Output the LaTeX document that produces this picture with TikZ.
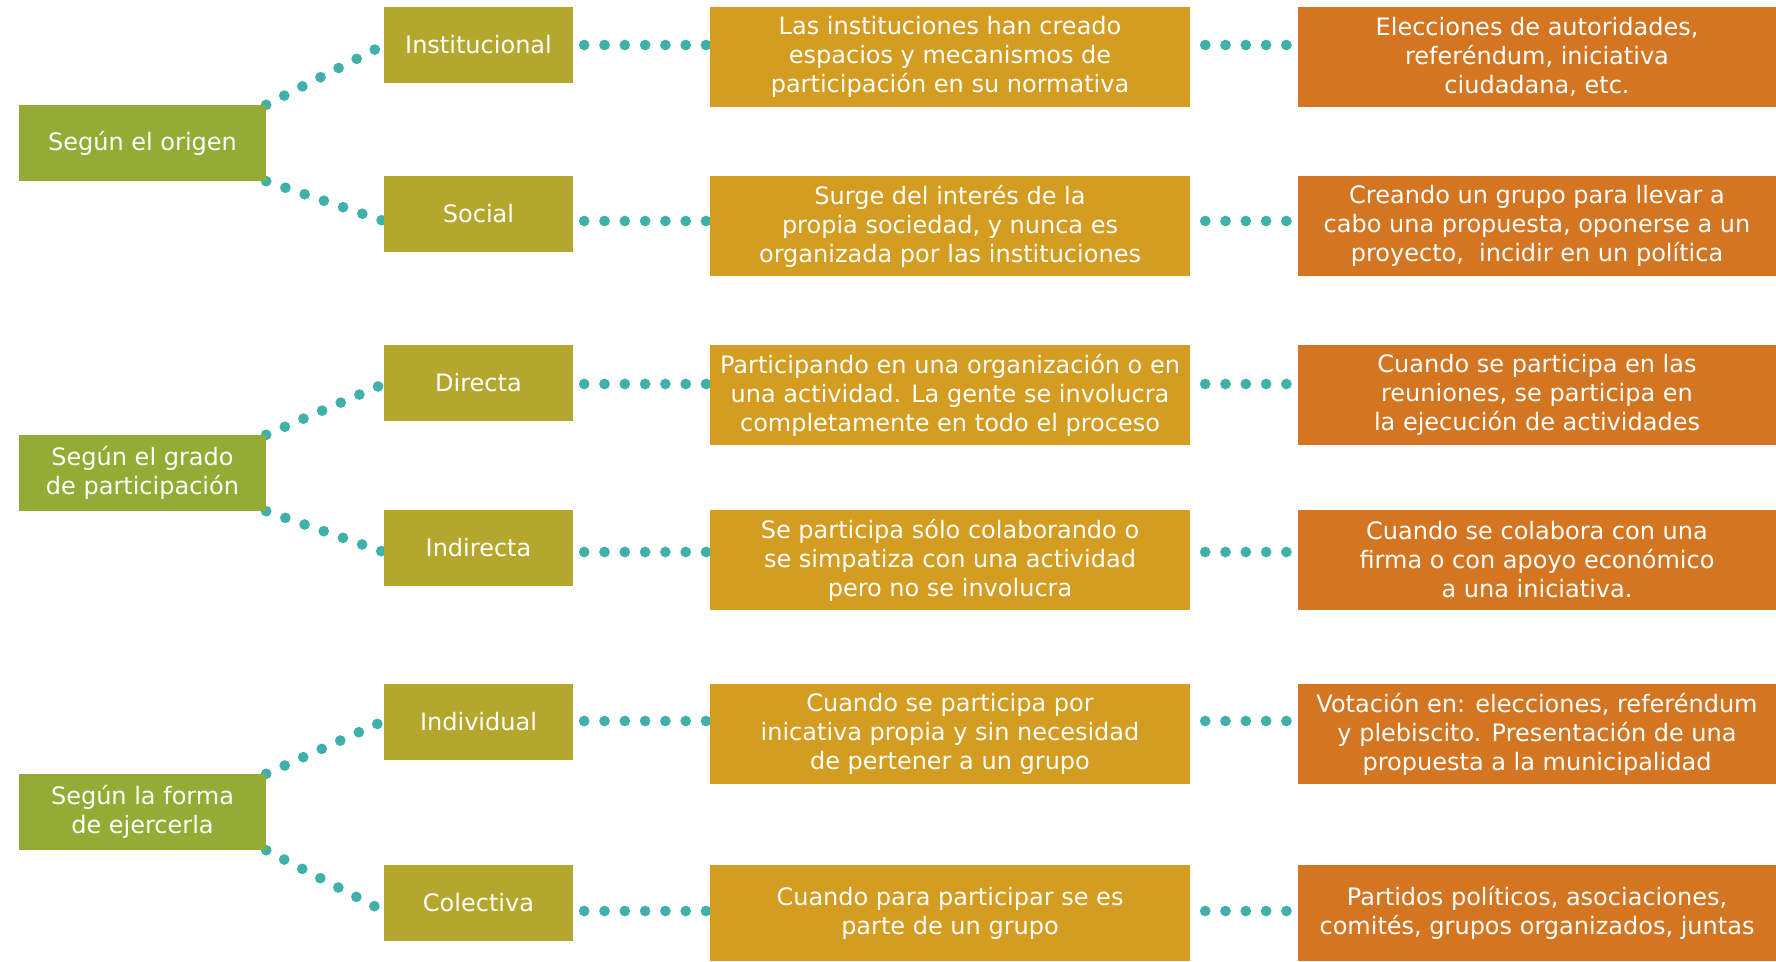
\documentclass[tikz,border=0pt]{standalone}
\usepackage{fontspec}
\setmainfont{DejaVu Sans}
\usetikzlibrary{backgrounds,calc}
\definecolor{cLeft}{HTML}{94AC35}
\definecolor{cOlive}{HTML}{B5A72D}
\definecolor{cYel}{HTML}{D49C20}
\definecolor{cOr}{HTML}{D47522}
\definecolor{cTeal}{HTML}{3FB0AA}
\begin{document}
\begin{tikzpicture}[x=1pt,y=-1pt,
 box/.style={rectangle, inner sep=0pt, text=white, align=center, font=\fontsize{24}{29}\selectfont},
 lbox/.style={box, fill=cLeft, minimum width=247pt, minimum height=76pt},
 obox/.style={box, fill=cOlive, minimum width=189pt, minimum height=76pt},
 tbox/.style={box, fill=cYel, minimum width=480pt, minimum height=100pt},
 fbox/.style={box, fill=cOr, minimum width=478pt, minimum height=100pt},
 dotline/.style={draw=cTeal, line width=10.7pt, line cap=round, dash pattern=on 0pt off 20.3pt}]
\useasboundingbox (0,0) rectangle (1776,961);
% left boxes
\node[lbox] (L1) at (142.5,143) {Según el origen};
\node[lbox] (L2) at (142.5,473) {Según el grado\\de participación};
\node[lbox] (L3) at (142.5,812) {Según la forma\\de ejercerla};
% olive boxes
\node[obox] (O1) at (478.5,45) {Institucional};
\node[obox] (O2) at (478.5,214) {Social};
\node[obox] (O3) at (478.5,383) {Directa};
\node[obox] (O4) at (478.5,548) {Indirecta};
\node[obox] (O5) at (478.5,722) {Individual};
\node[obox] (O6) at (478.5,903) {Colectiva};
% third column
\node[tbox] (T1) at (950,57) {Las instituciones han creado\\espacios y mecanismos de\\participación en su normativa};
\node[tbox] (T2) at (950,226) {Surge del interés de la\\propia sociedad, y nunca es\\organizada por las instituciones};
\node[tbox] (T3) at (950,395) {Participando en una organización o en\\una actividad. La gente se involucra\\completamente en todo el proceso};
\node[tbox] (T4) at (950,560) {Se participa sólo colaborando o\\se simpatiza con una actividad\\pero no se involucra};
\node[tbox] (T5) at (950,734) {Cuando se participa por\\inicativa propia y sin necesidad\\de pertener a un grupo};
\node[tbox, minimum height=96pt] (T6) at (950,913) {Cuando para participar se es\\parte de un grupo};
% fourth column
\node[fbox] (F1) at (1537,57) {Elecciones de autoridades,\\referéndum, iniciativa\\ciudadana, etc.};
\node[fbox] (F2) at (1537,226) {Creando un grupo para llevar a\\cabo una propuesta, oponerse a un\\proyecto,~ incidir en un política};
\node[fbox] (F3) at (1537,395) {Cuando se participa en las\\reuniones, se participa en\\la ejecución de actividades};
\node[fbox] (F4) at (1537,560) {Cuando se colabora con una\\firma o con apoyo económico\\a una iniciativa.};
\node[fbox] (F5) at (1537,734) {Votación en: elecciones, referéndum\\y plebiscito. Presentación de una\\propuesta a la municipalidad};
\node[fbox, minimum height=96pt] (F6) at (1537,913) {Partidos políticos, asociaciones,\\comités, grupos organizados, juntas};
% connectors
\begin{scope}[on background layer]
\coordinate (c1) at ($(O1.west)+(0,0)$);
\coordinate (c2) at ($(O2.west)+(0,7)$);
\coordinate (c3) at ($(O3.west)+(0,1)$);
\coordinate (c4) at ($(O4.west)+(0,4)$);
\coordinate (c5) at ($(O5.west)+(0,-1)$);
\coordinate (c6) at ($(O6.west)+(0,8)$);
\draw[dotline] (L1.north east) -- (c1);
\draw[dotline] (L1.south east) -- (c2);
\draw[dotline] (L2.north east) -- (c3);
\draw[dotline] (L2.south east) -- (c4);
\draw[dotline] (L3.north east) -- (c5);
\draw[dotline] (L3.south east) -- (c6);
\foreach \i in {1,...,6}{
  \draw[dotline] ([xshift=11pt]c\i -| O\i.east) -- (c\i -| T\i.west);
  \draw[dotline] ([xshift=15pt]c\i -| T\i.east) -- (c\i -| F\i.west);
}
\end{scope}
\end{tikzpicture}
\end{document}
